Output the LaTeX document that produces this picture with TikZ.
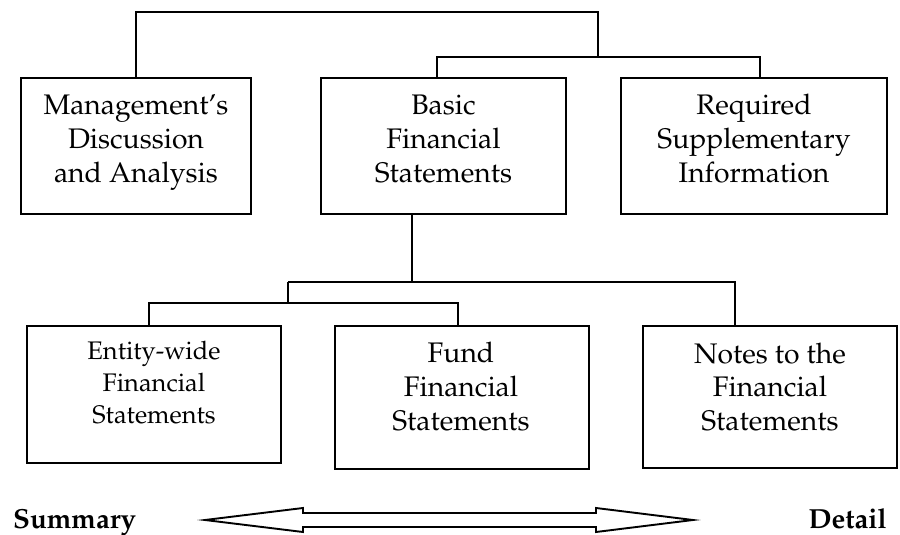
\documentclass[tikz,border=0pt]{standalone}
\usepackage[T1]{fontenc}
\usepackage{mathpazo}
\begin{document}
\begin{tikzpicture}[x=1pt,y=-1pt,
  box/.style={draw, line width=1.9pt, inner sep=0pt},
  txt/.style={align=center, inner sep=0pt, anchor=base, font=\fontsize{28.3}{34}\selectfont},
  smalltxt/.style={txt, font=\fontsize{25.4}{32}\selectfont},
  lbl/.style={inner sep=0pt, font=\fontsize{27.6}{34}\selectfont\bfseries},
  wire/.style={line width=1.9pt}]
\useasboundingbox (0,0) rectangle (900,535);
% boxes
\node[box, minimum width=230, minimum height=136] (mda) at (136,146) {};
\node[box, minimum width=245, minimum height=136] (basic) at (443.5,146) {};
\node[box, minimum width=266, minimum height=136] (rsi) at (754,146) {};
\node[box, minimum width=254, minimum height=137] (entity) at (154,394.5) {};
\node[box, minimum width=254, minimum height=143] (fund) at (462,397.5) {};
\node[box, minimum width=254, minimum height=142] (notes) at (770,397) {};
% texts (anchor base = baseline of last line)
\node[txt] (mdat) at (136,182) {Management's\\Discussion\\and Analysis};
\node[txt] (basict) at (443.5,182) {Basic\\Financial\\Statements};
\node[txt] (rsit) at (754,182) {Required\\Supplementary\\Information};
\node[smalltxt] (entityt) at (154,423) {Entity-wide\\Financial\\Statements};
\node[txt] (fundt) at (461,430) {Fund\\Financial\\Statements};
\node[txt, font=\fontsize{28.3}{33.5}\selectfont] (notest) at (770,430) {Notes to the\\Financial\\Statements};
% connectors
\coordinate (t1) at (598,12);
\coordinate (j1) at (598,57);
\coordinate (b1) at (437,57);
\coordinate (r1) at (760,57);
\draw[wire] (mda.north) |- (t1) -- (j1);
\draw[wire] (basic.north -| b1) -- (b1) -- (r1) -- (r1 |- rsi.north);
\coordinate (j2) at (412,282);
\coordinate (c1) at (288,282);
\coordinate (c2) at (735,282);
\coordinate (d1) at (288,303);
\coordinate (e1) at (149,303);
\coordinate (f1) at (458,303);
\draw[wire] (basic.south -| j2) -- (j2);
\draw[wire] (c1) -- (c2) -- (c2 |- notes.north);
\draw[wire] (c1) -- (d1);
\draw[wire] (entity.north -| e1) -- (e1) -- (f1) -- (f1 |- fund.north);
% double arrow
\draw[line width=1.9pt, line join=miter] (205,520) -- (303,508) -- (303,513) -- (596,513) -- (596,508) -- (693,520) -- (596,532) -- (596,527) -- (303,527) -- (303,532) -- cycle;
% labels
\node[lbl, anchor=base west] (sum) at (13,528) {Summary};
\node[lbl, anchor=base east] (det) at (887,528) {Detail};
\end{tikzpicture}
\end{document}
